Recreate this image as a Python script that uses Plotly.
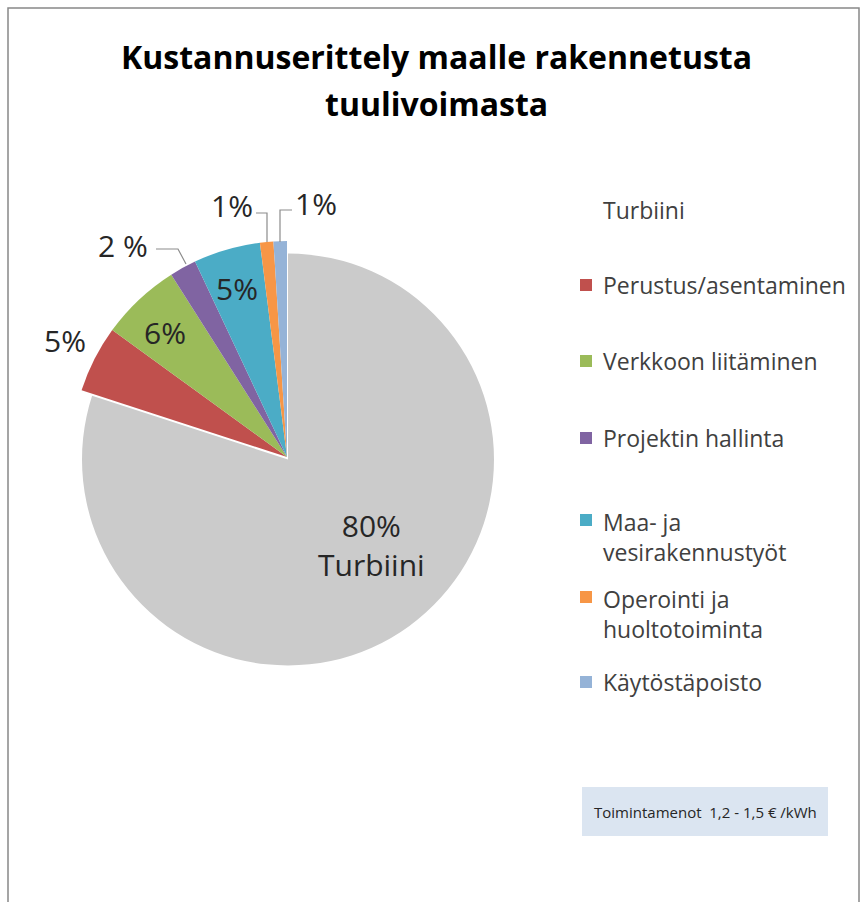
import plotly.graph_objects as go

W, H = 867, 902

# ---- data ----
labels = ["Turbiini", "Perustus/asentaminen", "Verkkoon liitäminen", "Projektin hallinta",
          "Maa- ja vesirakennustyöt", "Operointi ja huoltotoiminta", "Käytöstäpoisto"]
legend_text = ["Turbiini", "Perustus/asentaminen", "Verkkoon liitäminen", "Projektin hallinta",
               "Maa- ja<br>vesirakennustyöt", "Operointi ja<br>huoltotoiminta", "Käytöstäpoisto"]
values = [80, 5, 6, 2, 5, 1, 1]
pct_text = ["80%<br>Turbiini", "5%", "6%", "2 %", "5%", "1%", "1%"]
colors = ["#cbcbcb", "#c0504d", "#9bbb59", "#8064a2", "#4bacc6", "#f79646", "#95b3d7"]
swatch = [None, "#c0504d", "#9bbb59", "#8064a2", "#4bacc6", "#f79646", "#95b3d7"]
title_lines = ["Kustannuserittely maalle rakennetusta", "tuulivoimasta"]
note = "Toimintamenot  1,2 - 1,5 € /kWh"

FONT = "Open Sans"
CLEAR = "rgba(0,0,0,0)"


def px(x, y):
    return x / W, 1 - y / H


def dom(cx, cy, half):
    return dict(x=[(cx - half) / W, (cx + half) / W], y=[1 - (cy + half) / H, 1 - (cy - half) / H])


CX, CY = 287, 457

# gray (Turbiini) slice: slightly smaller and exploded
gray_colors = [colors[0]] + [CLEAR] * (len(values) - 1)
gray_pull = 0.033
fig = go.Figure(go.Pie(
    labels=labels, values=values, sort=False, direction="clockwise", rotation=0,
    marker=dict(colors=gray_colors, line=dict(width=0)),
    pull=[gray_pull] + [0] * (len(values) - 1), textinfo="none", showlegend=False,
    hoverinfo="label+percent", domain=dom(CX - 3, CY - 3, 206 * (1 + gray_pull)),
))
# coloured slices
col_colors = [CLEAR] + colors[1:]
fig.add_trace(go.Pie(
    labels=labels, values=values, sort=False, direction="clockwise", rotation=0,
    marker=dict(colors=col_colors, line=dict(width=0)),
    textinfo="none", showlegend=False, hoverinfo="label+percent",
    domain=dom(CX, CY, 216),
))

annotations = []
shapes = []

# title (two lines, Excel-like wide line spacing)
for t, y in zip(title_lines, [56, 103]):
    ax, ay = px(436, y)
    annotations.append(dict(x=ax, y=ay, xref="paper", yref="paper", text="<b>" + t + "</b>",
                            showarrow=False, xanchor="center", yanchor="middle",
                            font=dict(family=FONT, size=32, color="black")))

# data labels
label_pos = [(371, 545), (65, 340), (165, 333), (123, 245), (237, 288), (232, 205), (316, 203)]
for t, (x, y) in zip(pct_text, label_pos):
    ax, ay = px(x, y)
    annotations.append(dict(x=ax, y=ay, xref="paper", yref="paper", text=t, showarrow=False,
                            font=dict(family=FONT, size=30, color="#262626"),
                            xanchor="center", yanchor="middle"))

# leader lines
leaders = [
    [(156, 249), (178, 249), (186, 264)],
    [(256, 213), (267, 213), (267, 242)],
    [(292, 210), (280, 210), (280, 242)],
]
for pts in leaders:
    path = "M " + " L ".join(f"{px(x, y)[0]},{px(x, y)[1]}" for x, y in pts)
    shapes.append(dict(type="path", path=path, xref="paper", yref="paper",
                       line=dict(color="#8c8c8c", width=1.2)))

# legend
legend_y = [210, 285, 361, 438, 537, 614, 682]
for t, c, y in zip(legend_text, swatch, legend_y):
    ax, ay = px(601, y)
    annotations.append(dict(x=ax, y=ay, xref="paper", yref="paper", text=t, showarrow=False,
                            align="left", xanchor="left", yanchor="middle",
                            font=dict(family=FONT, size=23, color="#404040")))
    if c is not None:
        fy = y - 17 if "<br>" in t else y
        sx0, sy0 = px(580, fy - 6)
        sx1, sy1 = px(592, fy + 6)
        shapes.append(dict(type="rect", xref="paper", yref="paper", x0=sx0, x1=sx1, y0=sy1, y1=sy0,
                           fillcolor=c, line=dict(width=0)))

# note box
nx0, ny0 = px(582, 787)
nx1, ny1 = px(828, 836)
shapes.append(dict(type="rect", xref="paper", yref="paper", x0=nx0, x1=nx1, y0=ny1, y1=ny0,
                   fillcolor="#dbe5f1", line=dict(width=0), layer="below"))
annotations.append(dict(x=(nx0 + nx1) / 2, y=(ny0 + ny1) / 2, xref="paper", yref="paper", text=note,
                        showarrow=False, xanchor="center", yanchor="middle",
                        font=dict(family=FONT, size=15, color="#262626")))

# chart border
bx0, by0 = px(8, 8)
bx1, by1 = px(859, 910)
shapes.append(dict(type="rect", xref="paper", yref="paper", x0=bx0, x1=bx1, y0=by1, y1=by0,
                   line=dict(color="#888888", width=1.5), fillcolor="rgba(0,0,0,0)"))

fig.update_layout(
    width=W, height=H, margin=dict(l=0, r=0, t=0, b=0),
    paper_bgcolor="white", plot_bgcolor="white",
    annotations=annotations, shapes=shapes,
)

fig.write_html("out.html", config={"displayModeBar": False},
               post_script="document.body.style.margin='0';document.body.style.overflow='hidden';")
